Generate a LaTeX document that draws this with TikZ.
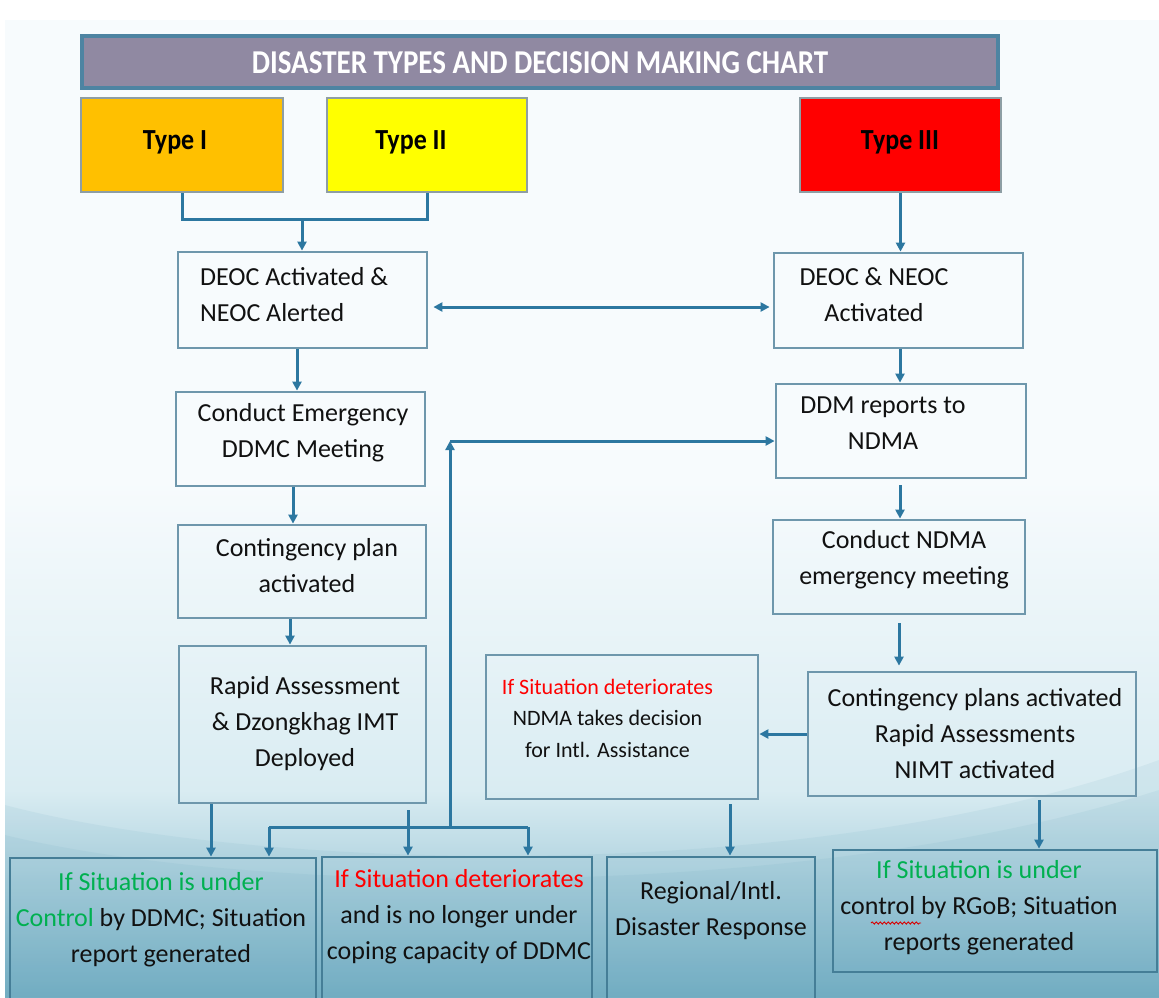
\documentclass[tikz,border=0pt]{standalone}
\usepackage{fontspec}
\setmainfont{Carlito}
\usetikzlibrary{arrows.meta,decorations.pathmorphing}
\definecolor{arrc}{HTML}{2C77A0}
\definecolor{boxc}{HTML}{6E97AC}
\definecolor{boxd}{HTML}{457E97}
\definecolor{titlefill}{HTML}{9089A2}
\definecolor{titleborder}{HTML}{4E84A2}
\definecolor{typeborder}{HTML}{8E9EA4}
\definecolor{typeone}{HTML}{FFC000}
\definecolor{typetwo}{HTML}{FFFF00}
\definecolor{typethree}{HTML}{FF0000}
\definecolor{okgreen}{HTML}{00B050}
\definecolor{badred}{HTML}{FF0000}
\definecolor{txt}{HTML}{111111}
\definecolor{bgtop}{HTML}{F7FBFD}
\definecolor{bgmid}{HTML}{D9ECF2}
\definecolor{bgbot}{HTML}{76B0C5}
\definecolor{wavec}{HTML}{5E9FB6}
\tikzset{
  box/.style={draw=boxc, line width=2.8pt, rectangle, inner sep=0pt},
  lowbox/.style={draw=boxd, line width=2.8pt, rectangle, inner sep=0pt},
  typebox/.style={draw=typeborder, line width=2.4pt, rectangle, inner sep=0pt},
  btxt/.style={text=txt, inner sep=0pt, font=\fontsize{26}{36}\selectfont, align=center},
  stxt/.style={text=txt, inner sep=0pt, font=\fontsize{22}{31.5}\selectfont, align=center},
  conn/.style={draw=arrc, line width=3pt},
  arr/.style={conn, -{Triangle[length=9pt,width=9pt]}},
  darr/.style={conn, {Triangle[length=9pt,width=9pt]}-{Triangle[length=9pt,width=9pt]}}
}
\begin{document}
\begin{tikzpicture}[x=1pt,y=-1pt]
\useasboundingbox (0,0) rectangle (1159,997);
% background
\fill[white] (0,0) rectangle (1159,997);
\fill[bgtop] (5,20) rectangle (1159,997);
\shade[top color=bgtop, bottom color=bgmid] (5,480) rectangle (1159,791);
\shade[top color=bgmid, bottom color=bgbot] (5,790) rectangle (1159,997);
\fill[wavec, opacity=0.09] (5,805) .. controls (250,870) and (800,890) .. (1159,760) -- (1159,997) -- (5,997) -- cycle;
\fill[wavec, opacity=0.09] (5,835) .. controls (250,895) and (800,905) .. (1159,790) -- (1159,997) -- (5,997) -- cycle;

% title and type boxes
\node[draw=titleborder, fill=titlefill, line width=3.2pt, minimum width=916pt, minimum height=52pt, inner sep=0pt] (title) at (540,62) {};
\node[text=white, inner sep=0pt, font=\bfseries\fontsize{29}{34}\selectfont] (titletxt) at (540,63) {\scalebox{1}[1.15]{DISASTER TYPES AND DECISION MAKING CHART}};
\node[typebox, fill=typeone, minimum width=202pt, minimum height=94pt] (t1) at (182,145) {};
\node[typebox, fill=typetwo, minimum width=200pt, minimum height=94pt] (t2) at (427,145) {};
\node[typebox, fill=typethree, minimum width=201pt, minimum height=94pt] (t3) at (900.5,145) {};
\node[text=black, inner sep=0pt, font=\bfseries\fontsize{26}{30}\selectfont] (t1txt) at (175,142) {\scalebox{1}[1.12]{Type I}};
\node[text=black, inner sep=0pt, font=\bfseries\fontsize{26}{30}\selectfont] (t2txt) at (411,142) {\scalebox{1}[1.12]{Type II}};
\node[text=black, inner sep=0pt, font=\bfseries\fontsize{26}{30}\selectfont] (t3txt) at (900,142) {\scalebox{1}[1.12]{Type III}};

% left column
\node[box, minimum width=249pt, minimum height=96pt] (deoc) at (302.5,300) {};
\node[btxt, align=left, anchor=west] (deoctxt) at (200,295) {DEOC Activated \&\\NEOC Alerted};
\node[box, minimum width=249pt, minimum height=94pt] (ddmc) at (300.5,439) {};
\node[btxt] (ddmctxt) at (303,433) {Conduct Emergency\\DDMC Meeting};
\node[box, minimum width=248pt, minimum height=93pt] (cont) at (302,571.5) {};
\node[btxt] (conttxt) at (307,566) {Contingency plan\\activated};
\node[box, minimum width=247pt, minimum height=157pt] (rapid) at (302.5,724.5) {};
\node[btxt] (rapidtxt) at (305,724) {Rapid Assessment\\\& Dzongkhag IMT\\Deployed};

% right column
\node[box, minimum width=249pt, minimum height=95pt] (deocn) at (898.5,300.5) {};
\node[btxt] (deocntxt) at (874,295) {DEOC \& NEOC\\Activated};
\node[box, minimum width=250pt, minimum height=94pt] (ddm) at (901,431) {};
\node[btxt] (ddmtxt) at (883,423) {DDM reports to\\NDMA};
\node[box, minimum width=252pt, minimum height=94pt] (ndma) at (899,567) {};
\node[btxt] (ndmatxt) at (904,560) {Conduct NDMA\\emergency meeting};
\node[box, minimum width=328pt, minimum height=124pt] (cplans) at (972,734) {};
\node[btxt] (cplanstxt) at (975,734) {Contingency plans activated\\Rapid Assessments\\NIMT activated};

% middle decision box
\node[box, minimum width=272pt, minimum height=144pt] (mid) at (622,727) {};
\node[stxt] (midtxt) at (607.5,718) {\textcolor{badred}{If Situation deteriorates}\\NDMA takes decision\\for Intl. Assistance};

% bottom row
\node[lowbox, minimum width=306pt, minimum height=152pt] (bl) at (163,934) {};
\node[btxt] (bltxt) at (161,920) {\textcolor{okgreen}{If Situation is under}\\\textcolor{okgreen}{Control} by DDMC; Situation\\report generated};
\node[lowbox, minimum width=270pt, minimum height=153pt] (bm) at (457,933.5) {};
\node[btxt] (bmtxt) at (459,917) {\textcolor{badred}{If Situation deteriorates}\\and is no longer under\\coping capacity of DDMC};
\node[lowbox, minimum width=208pt, minimum height=153pt] (reg) at (711,933.5) {};
\node[btxt] (regtxt) at (711,911) {Regional/Intl.\\Disaster Response};
\node[lowbox, minimum width=324pt, minimum height=122pt] (rg) at (995,911) {};
\node[btxt] (rgtxt) at (979,908) {\textcolor{okgreen}{If Situation is under}\\control by RGoB; Situation\\reports generated};
\draw[red!85!black, line width=0.9pt, decorate, decoration={snake, amplitude=1.1pt, segment length=4pt}] (871,923) -- (921,923);

% connectors top
\coordinate (j1) at (302,218);
\draw[conn] (t1.south) -- ++(0,26) -| (t2.south);
\draw[arr] (j1) -- (j1 |- deoc.north);
\draw[arr] (t3.south) -- (t3.south |- deocn.north);
\draw[darr, shorten <=5pt, shorten >=3pt] (deoc.east |- 0,307) -- (deocn.west |- 0,307);

% left column connectors
\draw[arr] (deoc.south -| 297,0) -- (ddmc.north -| 297,0);
\draw[arr] (ddmc.south -| 293,0) -- (cont.north -| 293,0);
\draw[arr] (cont.south -| 290,0) -- (rapid.north -| 290,0);

% right column connectors
\draw[arr] (deocn.south -| 900,0) -- (ddm.north -| 900,0);
\draw[arr, shorten <=6pt] (ddm.south -| 900,0) -- (ndma.north -| 900,0);
\draw[arr, shorten <=8pt, shorten >=5pt] (ndma.south -| 899,0) -- (cplans.north -| 899,0);
\draw[arr] (cplans.west) -- (mid.east |- cplans.west);
\draw[arr, shorten <=4pt] (mid.south -| 730,0) -- (reg.north -| 730,0);
\draw[arr, shorten <=3pt] (cplans.south -| 1039,0) -- (rg.north -| 1039,0);

% bottom connectors
\coordinate (r2) at (408,810);
\coordinate (jl) at (269,827);
\coordinate (jr) at (528,827);
\coordinate (jb) at (450,827);
\coordinate (jt) at (450,441);
\draw[arr] (rapid.south -| 211,0) -- (bl.north -| 211,0);
\draw[arr] (r2) -- (r2 |- bm.north);
\draw[conn] (jl) -- (jr);
\draw[arr] (jl) -- (jl |- bl.north);
\draw[arr] (jr) -- (jr |- bm.north);
\draw[arr] (jb) -- (jt);
\draw[arr] (jt) -- (jt -| ddm.west);
\end{tikzpicture}
\end{document}
